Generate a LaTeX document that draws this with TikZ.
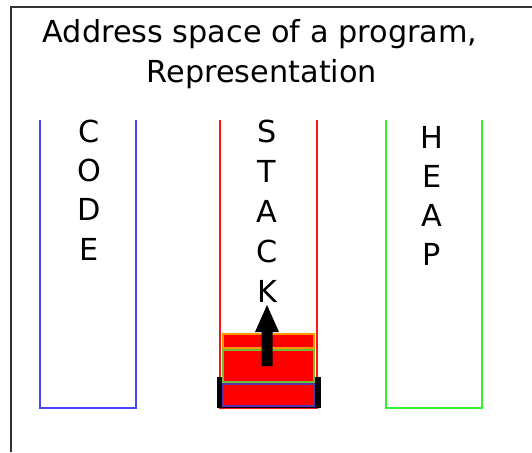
\documentclass[tikz,border=0pt]{standalone}
\usepackage{fontspec}
\setmainfont{DejaVu Sans}
\begin{document}
\begin{tikzpicture}[x=1pt,y=-1pt,
  txt/.style={inner sep=0pt,anchor=base,font=\fontsize{30.3}{36}\selectfont},
  well/.style={line width=2pt},
  block/.style={fill=red,line width=2pt}]
\definecolor{codeblue}{RGB}{70,70,255}
\definecolor{heapgreen}{RGB}{50,240,50}
\definecolor{stackred}{RGB}{255,20,20}
\definecolor{borderorange}{RGB}{255,150,0}
\definecolor{bordergreen}{RGB}{110,190,50}
\definecolor{borderpurple}{RGB}{90,50,170}
\useasboundingbox (0,0) rectangle (532,452);
% frame
\draw[line width=1.5pt,black!80] (11,452) -- (11,7) -- (532,7);
% title
\node[txt] (t1) at (260,43) {Address space of a program,};
\node[txt] (t2) at (262,82) {Representation};
% code well
\draw[well,codeblue] (40,120) -- (40,408) -- (136,408) -- (136,120);
% stack well
\draw[well,stackred] (220,120) -- (220,408) -- (317,408) -- (317,120);
% heap well
\draw[well,heapgreen] (386,120) -- (386,408) -- (482,408) -- (482,120);
% stack blocks
\fill[black] (217,377) rectangle (321,408);
\draw[block,draw=borderpurple] (223,383.5) rectangle (314,406);
\draw[block,draw=bordergreen] (223,349.5) rectangle (314,381.5);
\draw[block,draw=borderorange] (223,334) rectangle (314,347.5);
% arrow
\fill[black] (261.5,366) -- (261.5,332) -- (255,332) -- (267,305) -- (279,332) -- (272.5,332) -- (272.5,366) -- cycle;
% letters
\node[txt] (c1) at (89,142) {C};
\node[txt] (c2) at (89,181) {O};
\node[txt] (c3) at (89,220) {D};
\node[txt] (c4) at (89,260) {E};
\node[txt] (s1) at (267,142) {S};
\node[txt] (s2) at (267,182) {T};
\node[txt] (s3) at (267,222) {A};
\node[txt] (s4) at (267,262) {C};
\node[txt] (s5) at (267,302) {K};
\node[txt] (h1) at (432,148) {H};
\node[txt] (h2) at (432,187) {E};
\node[txt] (h3) at (432,226) {A};
\node[txt] (h4) at (432,265) {P};
\end{tikzpicture}
\end{document}
